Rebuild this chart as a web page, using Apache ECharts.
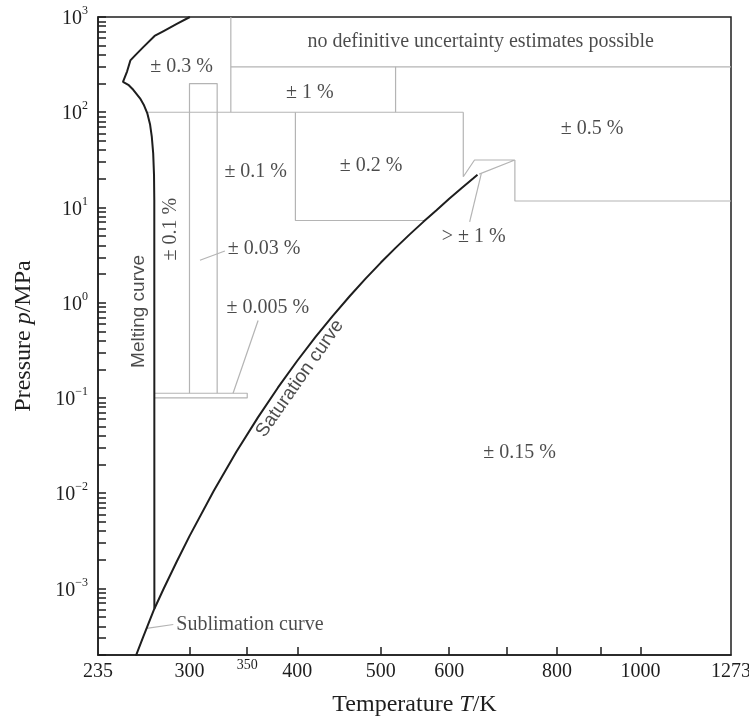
<!DOCTYPE html>
<html>
<head>
<meta charset="utf-8">
<script src="https://cdn.jsdelivr.net/npm/echarts@6/dist/echarts.min.js"></script>
<style>
  html, body { margin: 0; padding: 0; background: #fff; }
  #chart { width: 749px; height: 723px; }
</style>
</head>
<body>
<div id="chart"></div>
<script>
  // axis ticks / labels (T in K, p in MPa)
  let xTicks = [300, 350, 400, 500, 600, 700, 800, 900, 1000];
  let xLabels = [235, 300, 350, 400, 500, 600, 800, 1000, 1273];
  let yLabels = [1e-3, 1e-2, 1e-1, 1, 10, 100, 1000];
  let yTicks = [];
  for (let e = -4; e <= 2; e++) {
    for (let k = 1; k <= 9; k++) yTicks.push(+(k * Math.pow(10, e)).toPrecision(3));
  }
  yTicks.push(1000);

  // phase boundaries [T, p]
  let meltingCurve = [
    [300.3, 1000], [290, 846], [280, 712], [273.3, 632], [265, 480], [260, 403],
    [256.2, 350], [254, 269], [251.2, 208.6], [254.8, 194], [258.2, 172],
    [262.9, 140], [265.5, 120], [268, 98], [270, 75], [271.3, 55], [272.3, 37],
    [272.9, 22], [273.1, 12], [273.16, 0.000612]
  ];
  let saturationCurve = [
    [273.16, 0.000612], [280, 0.000992], [290, 0.00192], [300, 0.00354], [320, 0.01055],
    [340, 0.02719], [360, 0.06219], [380, 0.1289], [400, 0.2458], [420, 0.4373],
    [440, 0.7333], [460, 1.1687], [480, 1.7905], [500, 2.6392], [520, 3.766],
    [540, 5.2199], [560, 7.0605], [580, 9.3548], [600, 12.345], [620, 15.901],
    [640, 20.265], [647.1, 22.064]
  ];
  let sublimationCurve = [[273.16, 0.000612], [270, 0.00047], [265, 0.000306], [260, 0.000196]];

  // region borders (grey)
  let regionBorders = [
    [[335, 1000], [335, 100]],
    [[335, 300], [1273, 300]],
    [[520, 300], [520, 100]],
    [[267.6, 100], [623, 100]],
    [[398, 100], [398, 7.3], [562, 7.3]],
    [[623, 100], [623, 21], [642, 31.5], [715, 31.5], [650, 22.4]],
    [[715, 31.5], [715, 11.7], [1273, 11.7]],
    [[300, 0.112], [300, 200], [323, 200], [323, 0.112]],
    [[273.16, 0.112], [350, 0.112], [350, 0.1], [273.16, 0.1]]
  ];
  let leaderLines = [
    [[308.5, 2.79], [329.7, 3.49]],
    [[360.3, 0.651], [337, 0.112]],
    [[287.3, 0.000418], [267.6, 0.00038]],
    [[653.8, 22.8], [633.7, 7.05]]
  ];

  // annotations
  let labelTexts = ['no definitive uncertainty estimates possible', '± 0.3 %', '± 1 %', '± 0.5 %',
    '± 0.2 %', '± 0.1 %', '± 0.1 %', '± 0.03 %', '± 0.005 %', '> ± 1 %', '± 0.15 %',
    'Melting curve', 'Saturation curve', 'Sublimation curve'];
  let labelT = [652.6, 293.8, 413.6, 878.6, 487, 358, 285.5, 366, 369.8, 640.5, 724, 262.1, 402.8, 352.5];
  let labelP = [550, 302, 159.7, 67.9, 27.4, 23.7, 5.91, 3.73, 0.892, 4.87, 0.0266, 0.81, 0.16, 0.00042];

  let serif = 'Liberation Serif';
  let sans = 'Liberation Sans';
  let ink = '#1e1e1e';
  let grey = '#b4b4b4';

  let rotated = { 6: 90, 11: 90, 12: 55 };
  let sansLabels = { 11: true, 12: true };

  let series = [];
  let curveStyle = { color: ink, width: 2 };
  [meltingCurve, saturationCurve, sublimationCurve].forEach(function (d) {
    series.push({ type: 'line', data: d, symbol: 'none', lineStyle: curveStyle, silent: true, z: 5 });
  });
  regionBorders.concat(leaderLines).forEach(function (d) {
    series.push({ type: 'line', data: d, symbol: 'none', lineStyle: { color: grey, width: 1.2 }, silent: true, z: 3 });
  });
  series.push({
    type: 'scatter',
    symbolSize: 0,
    silent: true,
    z: 6,
    data: labelTexts.map(function (t, i) {
      return {
        value: [labelT[i], labelP[i]],
        label: {
          show: true,
          position: 'inside',
          formatter: t,
          rotate: rotated[i] || 0,
          fontFamily: sansLabels[i] ? sans : serif,
          fontSize: sansLabels[i] ? 19 : 20,
          color: ink
        }
      };
    })
  });

  let myChart = echarts.init(document.getElementById('chart'));
  let option = {
    animation: false,
    backgroundColor: '#fff',
    grid: {
      left: 98, right: 18, top: 17, bottom: 68,
      outerBoundsMode: 'none', containLabel: false,
      show: true, borderColor: ink, borderWidth: 1.5
    },
    xAxis: {
      type: 'log',
      min: 235,
      max: 1273,
      name: 'Temperature {i|T}/K',
      nameLocation: 'middle',
      nameGap: 38,
      nameTextStyle: {
        fontFamily: serif, fontSize: 24, color: ink,
        rich: { i: { fontFamily: serif, fontSize: 24, fontStyle: 'italic', color: ink } }
      },
      axisLine: { lineStyle: { color: ink, width: 1.5 } },
      axisTick: { inside: true, length: 8, customValues: xTicks, lineStyle: { color: ink, width: 1.5 } },
      axisLabel: {
        customValues: xLabels,
        margin: 7,
        fontFamily: serif,
        fontSize: 20,
        color: ink,
        formatter: function (v) {
          let n = Math.round(v);
          return n === 350 ? '{s|350}' : String(n);
        },
        rich: { s: { fontFamily: serif, fontSize: 14, color: ink, lineHeight: 6 } }
      },
      splitLine: { show: false },
      minorTick: { show: false }
    },
    yAxis: {
      type: 'log',
      min: 0.0002,
      max: 1000,
      name: 'Pressure {i|p}/MPa',
      nameLocation: 'middle',
      nameGap: 62,
      nameTextStyle: {
        fontFamily: serif, fontSize: 24, color: ink,
        rich: { i: { fontFamily: serif, fontSize: 24, fontStyle: 'italic', color: ink } }
      },
      axisLine: { lineStyle: { color: ink, width: 1.5 } },
      axisTick: { inside: true, length: 8, customValues: yTicks, lineStyle: { color: ink, width: 1.5 } },
      axisLabel: {
        customValues: yLabels,
        margin: 10,
        formatter: function (v) {
          let e = Math.round(Math.log10(v));
          return '{b|10}{e|' + String(e).replace('-', '\u2212') + '}';
        },
        rich: {
          b: { fontFamily: serif, fontSize: 20, color: ink, lineHeight: 24, verticalAlign: 'bottom' },
          e: { fontFamily: serif, fontSize: 12, color: ink, lineHeight: 24, verticalAlign: 'top' }
        }
      },
      splitLine: { show: false },
      minorTick: { show: false }
    },
    series: series
  };
  myChart.setOption(option, true);
</script>
</body>
</html>
